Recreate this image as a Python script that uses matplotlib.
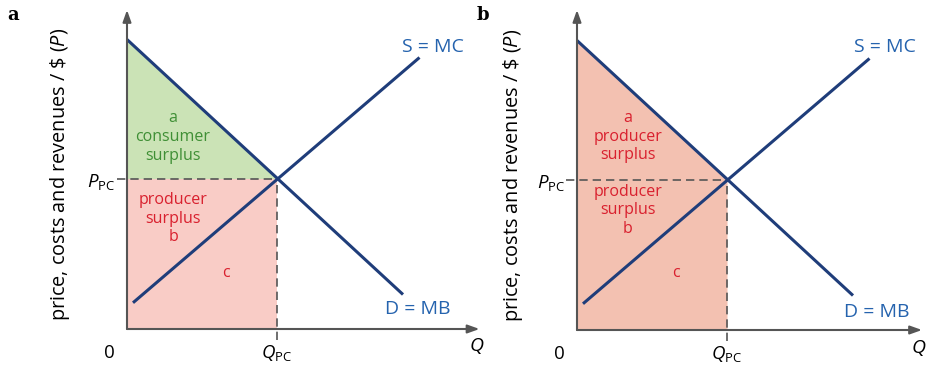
import matplotlib.pyplot as plt

plt.rcParams["font.family"] = "Open Sans"
plt.rcParams["mathtext.fontset"] = "custom"
plt.rcParams["mathtext.rm"] = "Open Sans"
plt.rcParams["mathtext.it"] = "Open Sans:italic"

LINE = '#1f3d7a'
BLUE = '#2563ae'
RED = '#d9202e'
GREEN_TXT = '#3f8f35'
GREEN_FILL = '#cbe3b6'
PINK_A = '#f9ccc6'
PINK_B = '#f3c1b1'
AXIS = '#555555'

# curve end points (quantity, price)
demand_q = [0.0, 18.4]
demand_p = [19.3, 2.3]
supply_q = [0.4, 19.5]
supply_p = [1.75, 18.1]
q_pc = 10.0
p_pc = 10.0

panel_a_labels = ['a', 'consumer', 'surplus', 'producer', 'surplus', 'b']
panel_b_labels = ['a', 'producer', 'surplus', 'producer', 'surplus', 'b']

W, H = 929, 367
fig = plt.figure(figsize=(W / 100, H / 100), dpi=100)
scale = 15.0


def make_axes(x0, y0, xmax):
    ymax = (y0 - 10) / scale
    ax = fig.add_axes([x0 / W, (H - y0) / H, xmax * scale / W, ymax * scale / H])
    ax.set_xlim(0, xmax)
    ax.set_ylim(0, ymax)
    ax.axis('off')
    arrow = dict(arrowstyle='-|>,head_length=0.7,head_width=0.25', color=AXIS, lw=1.5,
                 shrinkA=0, shrinkB=0)
    ax.annotate('', xy=(0, ymax), xytext=(0, 0), arrowprops=arrow, annotation_clip=False)
    ax.annotate('', xy=(xmax, 0), xytext=(0, 0), arrowprops=arrow, annotation_clip=False)
    return ax


def demand_at(q):
    return demand_p[0] + (demand_p[1] - demand_p[0]) * (q - demand_q[0]) / (demand_q[1] - demand_q[0])


def draw_common(ax, ylab_x):
    ax.plot([-0.7, q_pc], [p_pc, p_pc], color=AXIS, lw=1.2, ls=(0, (5, 3)), clip_on=False)
    ax.plot([q_pc, q_pc], [-0.75, p_pc], color=AXIS, lw=1.2, ls=(0, (5, 3)), clip_on=False)
    ax.plot(demand_q, demand_p, color=LINE, lw=2.2, solid_capstyle='butt')
    ax.plot(supply_q, supply_p, color=LINE, lw=2.2, solid_capstyle='butt')
    ax.text(-0.75, p_pc - 0.2, r'$P_{\mathrm{PC}}$', ha='right', va='center', fontsize=13.5,
            clip_on=False)
    ax.text(q_pc, -0.95, r'$Q_{\mathrm{PC}}$', ha='center', va='top', fontsize=13.5, clip_on=False)
    ax.text(-1.2, -1.0, '0', ha='center', va='top', fontsize=13.5, clip_on=False)
    ax.text(ylab_x, 10.3, r'price, costs and revenues / \$ ($\mathit{P}$)', rotation=90,
            ha='center', va='center', fontsize=14.3, clip_on=False)


def draw_labels(ax, labels, x, ys, colors):
    for lab, y, c in zip(labels, ys, colors):
        ax.text(x, y, lab, ha='center', va='center', fontsize=11.5, color=c)


# panel a
ax = make_axes(127, 329, 23.5)
ax.fill_between([0, q_pc], [demand_p[0], p_pc], [p_pc, p_pc], color=GREEN_FILL, lw=0)
ax.fill_between([0, q_pc], [p_pc, p_pc], [0, 0], color=PINK_A, lw=0)
draw_common(ax, -4.45)
draw_labels(ax, panel_a_labels, 3.07, [14.07, 12.8, 11.53, 8.6, 7.33, 6.13],
            [GREEN_TXT] * 3 + [RED] * 3)
ax.text(6.6, 3.73, 'c', ha='center', va='center', fontsize=11.5, color=RED)
ax.text(20.4, 18.8, 'S = MC', ha='center', va='center', fontsize=14, color=BLUE)
ax.text(19.4, 1.33, 'D = MB', ha='center', va='center', fontsize=14, color=BLUE)
ax.text(23.3, -0.5, r'$\mathit{Q}$', ha='center', va='top', fontsize=14, clip_on=False)
fig.text(13 / W, 1 - 15 / H, 'a', ha='center', va='center', fontsize=13, fontweight='bold',
         family='DejaVu Serif')

# panel b
ax = make_axes(577, 330, 23.0)
ax.fill_between([0, q_pc], [demand_p[0], demand_at(q_pc)], [0, 0], color=PINK_B, lw=0)
draw_common(ax, -4.27)
draw_labels(ax, panel_b_labels, 3.4, [14.13, 12.87, 11.67, 9.2, 8.0, 6.73], [RED] * 6)
ax.text(6.6, 3.8, 'c', ha='center', va='center', fontsize=11.5, color=RED)
ax.text(20.5, 18.9, 'S = MC', ha='center', va='center', fontsize=14, color=BLUE)
ax.text(20.0, 1.2, 'D = MB', ha='center', va='center', fontsize=14, color=BLUE)
ax.text(22.75, -0.5, r'$\mathit{Q}$', ha='center', va='top', fontsize=14, clip_on=False)
fig.text(483 / W, 1 - 15 / H, 'b', ha='center', va='center', fontsize=13, fontweight='bold',
         family='DejaVu Serif')

fig.savefig('out.png', dpi=100)
